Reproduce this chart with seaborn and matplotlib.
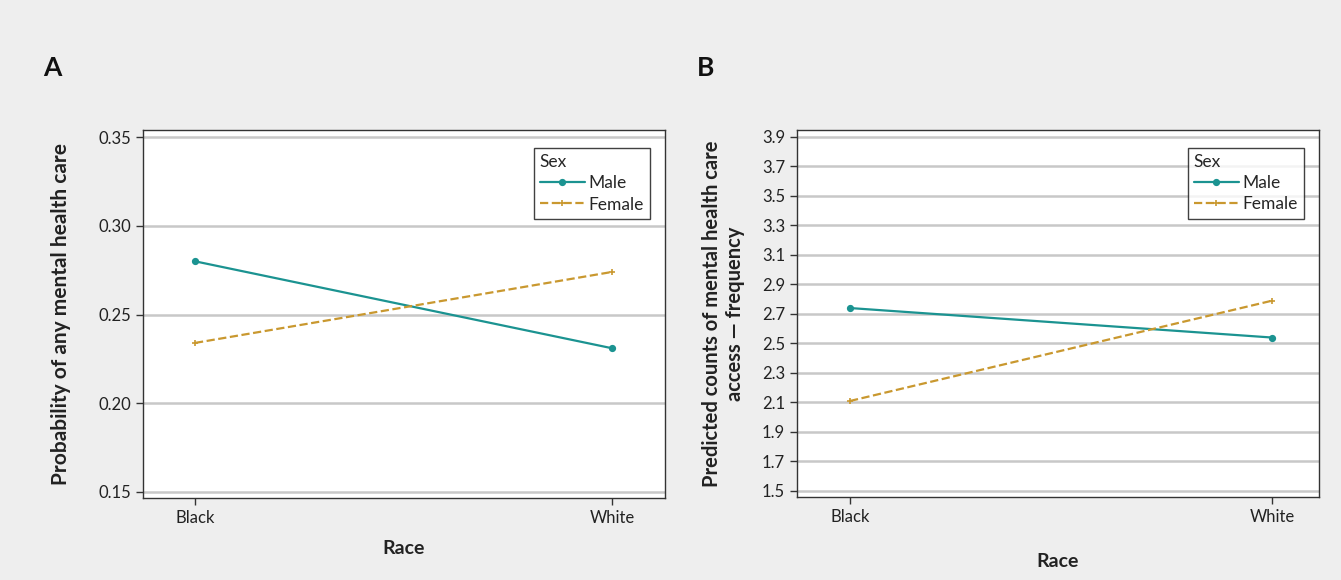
import matplotlib
matplotlib.use("Agg")
import matplotlib.pyplot as plt
import seaborn as sns
import pandas as pd

races = ["Black", "White"]
sexes = ["Male", "Female"]
prob_male = [0.280, 0.231]
prob_female = [0.234, 0.274]
count_male = [2.74, 2.54]
count_female = [2.11, 2.79]

teal = "#1b9391"
gold = "#c9982f"

sns.set_theme(style="white")
plt.rcParams["font.family"] = ["Lato", "DejaVu Sans"]

def make_df(male, female):
    rows = []
    for s, vals in zip(sexes, [male, female]):
        for r, v in zip(races, vals):
            rows.append({"Race": r, "Sex": s, "value": v})
    return pd.DataFrame(rows)

fig = plt.figure(figsize=(13.41, 5.80), dpi=100)
fig.patch.set_facecolor("#eeeeee")
axA = fig.add_axes([143 / 1341, 1 - 498 / 580, 522 / 1341, 368 / 580])
axB = fig.add_axes([797 / 1341, 1 - 497 / 580, 522 / 1341, 367 / 580])

panels = [
    (axA, make_df(prob_male, prob_female), "Probability of any mental health care",
     (0.1466, 0.354), [0.15, 0.20, 0.25, 0.30, 0.35], "{:.2f}", "A", 10, 20,
     (-0.1247, 1.127), 15),
    (axB, make_df(count_male, count_female),
     "Predicted counts of mental health care\naccess \u2014 frequency",
     (1.459, 3.947), [1.5 + 0.2 * i for i in range(13)], "{:.1f}", "B", 20, 12,
     (-0.1256, 1.111), 14.5),
]

for ax, df, ylabel, ylim, yticks, fmt, letter, xpad, ypad, xlim, yfs in panels:
    ax.set_facecolor("white")
    sns.pointplot(data=df, x="Race", y="value", hue="Sex", hue_order=sexes,
                  palette=[teal, gold], markers=["o", "+"], linestyles=["-", "--"],
                  markersize=4, linewidth=1.6, errorbar=None, ax=ax)
    ax.set_xlim(*xlim)
    ax.set_ylim(*ylim)
    ax.set_yticks(yticks)
    ax.set_yticklabels([fmt.format(t) for t in yticks])
    ax.yaxis.grid(True, color="#c8c8c8", linewidth=1.8)
    ax.xaxis.grid(False)
    ax.set_axisbelow(True)
    for sp in ax.spines.values():
        sp.set_color("#333333")
        sp.set_linewidth(1.0)
    ax.tick_params(axis="both", which="both", direction="out", length=5, width=1,
                   color="#333333", labelsize=12, labelcolor="#222222",
                   left=True, bottom=True)
    ax.set_xlabel("Race", fontsize=14, fontweight="bold", labelpad=xpad, color="#222222")
    ax.set_ylabel(ylabel, fontsize=yfs, fontweight="bold", labelpad=ypad, color="#222222")
    handles, labels = ax.get_legend_handles_labels()
    if ax.get_legend() is not None:
        ax.get_legend().remove()
    leg = ax.legend(handles, labels, title="Sex", loc="upper right",
                    bbox_to_anchor=(0.971, 0.951), borderaxespad=0,
                    fontsize=12.5, title_fontsize=12.5,
                    frameon=True, fancybox=False, edgecolor="#111111",
                    handlelength=2.6, handletextpad=0.2, borderpad=0.35,
                    labelspacing=0.3)
    leg.get_frame().set_linewidth(1.0)
    leg._legend_box.align = "left"
    pos = ax.get_position()
    fig.text(pos.x0 - (143 - 43) / 1341, 1 - 68 / 580, letter, fontsize=19,
             fontweight="bold", va="center", ha="left", color="#111111")

fig.savefig("out.png", dpi=100, facecolor=fig.get_facecolor())
